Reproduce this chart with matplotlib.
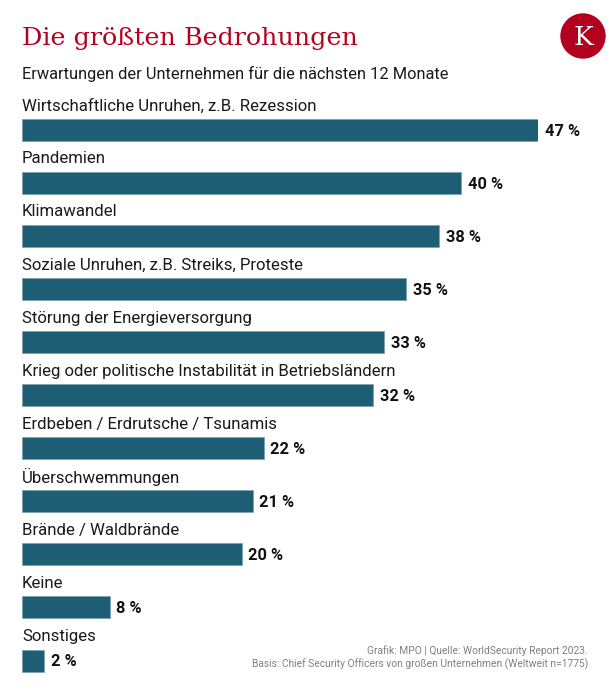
import matplotlib
matplotlib.use("Agg")
import matplotlib.pyplot as plt
from matplotlib.patches import Circle

categories = [
    "Wirtschaftliche Unruhen, z.B. Rezession",
    "Pandemien",
    "Klimawandel",
    "Soziale Unruhen, z.B. Streiks, Proteste",
    "Störung der Energieversorgung",
    "Krieg oder politische Instabilität in Betriebsländern",
    "Erdbeben / Erdrutsche / Tsunamis",
    "Überschwemmungen",
    "Brände / Waldbrände",
    "Keine",
    "Sonstiges",
]
values = [47, 40, 38, 35, 33, 32, 22, 21, 20, 8, 2]
value_labels = [f"{v} %" for v in values]

title = "Die größten Bedrohungen"
subtitle = "Erwartungen der Unternehmen für die nächsten 12 Monate"
footer1 = "Grafik: MPO | Quelle: WorldSecurity Report 2023."
footer2 = "Basis: Chief Security Officers von großen Unternehmen (Weltweit n=1775)"

W, H = 616, 694
fig = plt.figure(figsize=(W / 100, H / 100), dpi=100)
fig.patch.set_facecolor("white")

def fx(px):
    return px / W

def fy(py):
    return 1 - py / H

# bar axes: x 0..47 maps to px 22..538; rows centered 130..660.5
step = 53.05
top_px = 130 - step / 2
bot_px = 660.5 + step / 2
ax = fig.add_axes([fx(22), fy(bot_px), fx(538) - fx(22), (bot_px - top_px) / H])
ax.set_xlim(0, 47)
ax.set_ylim(len(values) - 0.5, -0.5)
ax.axis("off")

bar_color = "#1e5e74"
ypos = list(range(len(values)))
ax.barh(ypos, values, height=22 / step, color=bar_color, edgecolor="#7fa3b0",
        linewidth=0.6, left=0)

for i, (cat, v, lab) in enumerate(zip(categories, values, value_labels)):
    ax.text(0, i - 0.455, cat, ha="left", va="center", fontsize=12.1,
            family="Roboto", color="#1a1a1a", clip_on=False)
    ax.text(v + 0.6, i + 0.02, lab, ha="left", va="center", fontsize=11.8,
            family="Roboto", fontweight="bold", color="#111111", clip_on=False)

fig.text(fx(22), fy(38), title, ha="left", va="center", fontsize=18.3,
         family="DejaVu Serif", color="#b3001e")
fig.text(fx(22), fy(74), subtitle, ha="left", va="center", fontsize=11.8,
         family="Roboto", color="#1a1a1a")

fig.text(fx(588), fy(651), footer1, ha="right", va="center", fontsize=7.4,
         family="Roboto", color="#808080")
fig.text(fx(588), fy(664), footer2, ha="right", va="center", fontsize=7.4,
         family="Roboto", color="#808080")

# logo
lax = fig.add_axes([0, 0, 1, 1], facecolor="none")
lax.set_xlim(0, W)
lax.set_ylim(H, 0)
lax.axis("off")
lax.add_patch(Circle((583, 36), 22, color="#b3001e"))
lax.text(583, 37, "K", ha="center", va="center", fontsize=19,
         family="DejaVu Serif", color="white")

fig.savefig("out.png", dpi=100, facecolor="white")
